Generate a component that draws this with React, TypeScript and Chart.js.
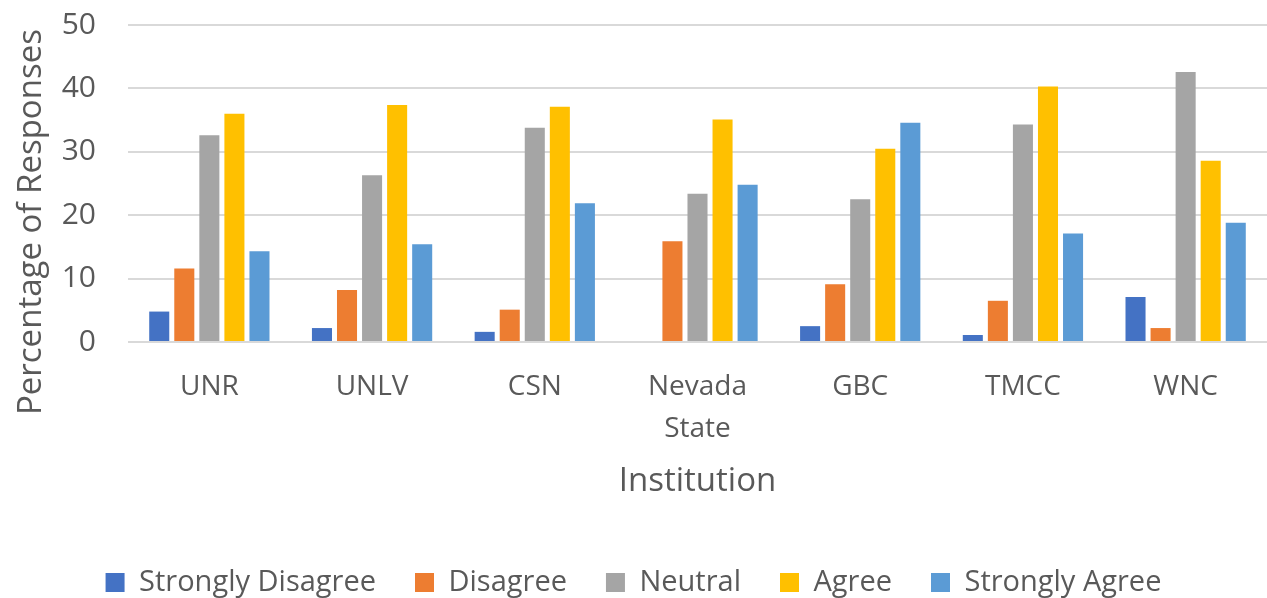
import React, { useEffect, useRef } from "react";
import { Chart, registerables } from "chart.js";

Chart.register(...registerables);

const categories: (string | string[])[] = ["UNR", "UNLV", "CSN", ["Nevada", "State"], "GBC", "TMCC", "WNC"];
const stronglyDisagree = [4.8, 2.2, 1.6, 0, 2.5, 1.1, 7.1];
const disagree = [11.6, 8.2, 5.1, 15.9, 9.1, 6.5, 2.2];
const neutral = [32.6, 26.3, 33.8, 23.4, 22.5, 34.3, 42.6];
const agree = [36.0, 37.4, 37.1, 35.1, 30.5, 40.3, 28.6];
const stronglyAgree = [14.3, 15.4, 21.9, 24.8, 34.6, 17.1, 18.8];
const yTicks = [0, 10, 20, 30, 40, 50];

const FONT = "'Open Sans', 'Noto Sans', sans-serif";
const TEXT = "#595959";

export default function App() {
  const ref = useRef<HTMLCanvasElement>(null);
  useEffect(() => {
    if (!ref.current) return;
    const mk = (label: string, data: number[], color: string) => ({
      label,
      data,
      backgroundColor: color,
      borderWidth: 0,
      barPercentage: 0.8,
      categoryPercentage: 0.77,
    });
    const chart = new Chart(ref.current, {
      type: "bar",
      data: {
        labels: categories,
        datasets: [
          mk("Strongly Disagree", stronglyDisagree, "#4472C4"),
          mk("Disagree", disagree, "#ED7D31"),
          mk("Neutral", neutral, "#A5A5A5"),
          mk("Agree", agree, "#FFC000"),
          mk("Strongly Agree", stronglyAgree, "#5B9BD5"),
        ],
      },
      options: {
        responsive: false,
        animation: false,
        layout: { padding: { left: 0, right: 0, top: 25, bottom: -9 } },
        plugins: {
          legend: {
            position: "bottom",
            labels: {
              color: TEXT,
              font: { family: FONT, size: 29 },
              boxWidth: 19,
              boxHeight: 19,
              padding: 39,
            },
          },
          tooltip: { enabled: false },
        },
        scales: {
          x: {
            grid: { display: false },
            border: { display: false },
            ticks: {
              color: TEXT,
              font: { family: FONT, size: 28, lineHeight: 1.5 },
              padding: 16,
              maxRotation: 0,
            },
            title: {
              display: true,
              text: "Institution",
              color: TEXT,
              font: { family: FONT, size: 33 },
              padding: { top: 0, bottom: 28 },
            },
            afterFit: (axis: any) => {
              axis.height = 187;
              axis.paddingLeft = 0;
              axis.paddingRight = 0;
            },
          },
          y: {
            min: 0,
            max: 50,
            afterBuildTicks: (axis: any) => {
              axis.ticks = yTicks.map((v) => ({ value: v }));
            },
            grid: { color: "#D9D9D9", lineWidth: 2, drawTicks: false },
            border: { display: false },
            ticks: { color: TEXT, font: { family: FONT, size: 30 }, padding: 32 },
            title: {
              display: true,
              text: "Percentage of Responses         ",
              color: TEXT,
              font: { family: FONT, size: 33 },
              padding: { top: 12, bottom: 0 },
            },
            afterFit: (axis: any) => {
              axis.width = 128;
              axis.paddingTop = 0;
              axis.paddingBottom = 0;
            },
          },
        },
      },
    });
    return () => chart.destroy();
  }, []);
  return (
    <div style={{ position: "fixed", left: 0, top: 0, width: 1267, height: 598, background: "#fff" }}>
      <canvas ref={ref} width={1267} height={598} />
    </div>
  );
}
